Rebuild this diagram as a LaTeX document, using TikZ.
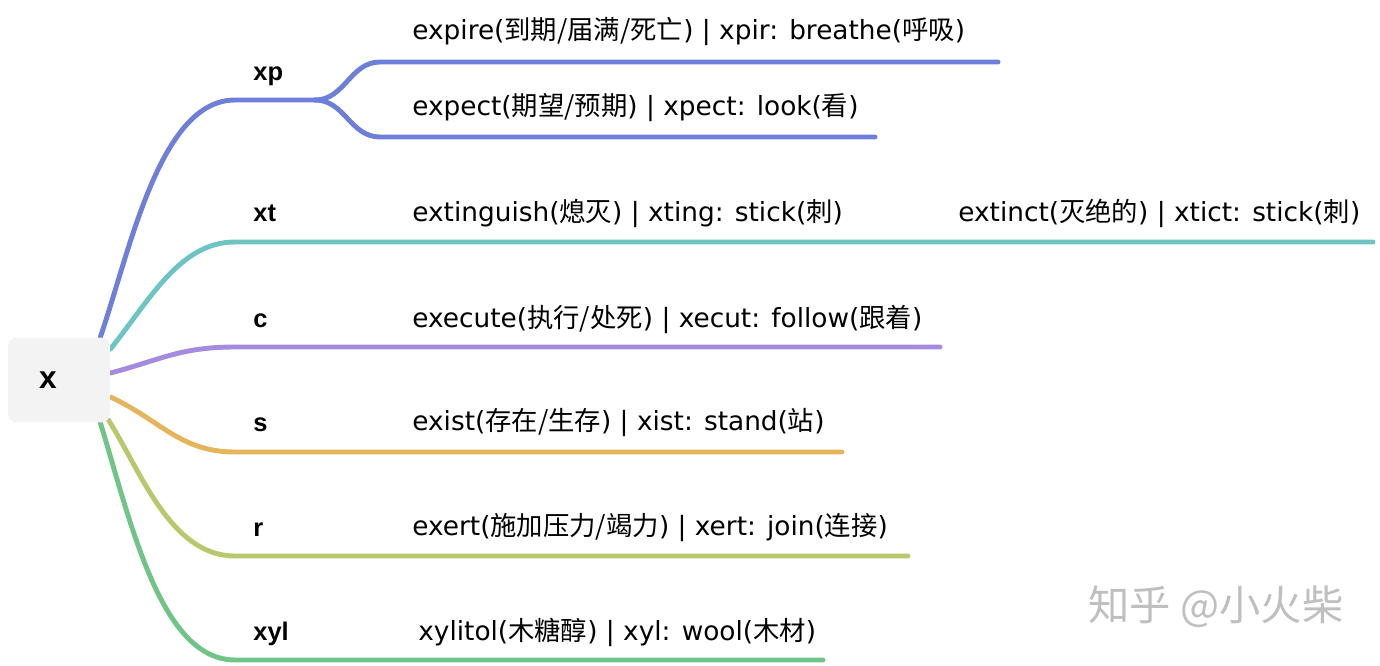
\documentclass[tikz,border=0pt]{standalone}
\usepackage{fontspec}
\setmainfont{Liberation Sans}
\newfontfamily\latin{DejaVu Sans}
\newfontfamily\cjk{Noto Sans CJK SC}
\usetikzlibrary{backgrounds}

\definecolor{rootgray}{HTML}{F3F3F3}
\definecolor{xpblue}{HTML}{6E7FD9}
\definecolor{xtteal}{HTML}{6EC4C2}
\definecolor{cpurple}{HTML}{A48BE0}
\definecolor{sorange}{HTML}{E4B55B}
\definecolor{rlime}{HTML}{B7C96C}
\definecolor{xylgreen}{HTML}{70C487}

\begin{document}
\begin{tikzpicture}[x=0.02cm,y=-0.02cm,
  branch/.style={line width=2.8pt,line cap=round},
  word/.style={anchor=west,inner sep=0pt,font=\latin\fontsize{15}{18}\selectfont},
  stem/.style={anchor=base west,inner sep=0pt,font=\fontsize{14.5}{16}\selectfont\bfseries}]

\useasboundingbox (0,0) rectangle (1380,666);

% Root box
\node[fill=rootgray, rounded corners=5pt, minimum height=1.7cm,
  inner xsep=0.62cm, text width=0.8cm, align=left,
  font=\fontsize{18}{20}\selectfont\bfseries] (root) at (59,380) {x};

% Bends and ends of the branches
\coordinate (xp-bend) at (235,100);
\coordinate (xp-fork) at (315,100);
\coordinate (xp-up) at (380,62);
\coordinate (xp-dn) at (380,137);
\coordinate (xp-up-end) at (998,62);
\coordinate (xp-dn-end) at (875,137);
\coordinate (xt-bend) at (235,242);
\coordinate (xt-end) at (1373,242);
\coordinate (c-bend) at (235,347);
\coordinate (c-end) at (940,347);
\coordinate (s-bend) at (235,452);
\coordinate (s-end) at (842,452);
\coordinate (r-bend) at (235,556);
\coordinate (r-end) at (908,556);
\coordinate (xyl-bend) at (235,660);
\coordinate (xyl-end) at (823,660);

% Branches, behind the root box
\begin{scope}[on background layer]
\draw[branch,xpblue] ([xshift=-0.2cm]root.north east)
  .. controls +(30,-88) and +(-75,0) .. (xp-bend) -- (xp-fork);
\draw[branch,xpblue] (xp-fork) .. controls +(30,0) and +(-30,0) .. (xp-up) -- (xp-up-end);
\draw[branch,xpblue] (xp-fork) .. controls +(30,0) and +(-30,0) .. (xp-dn) -- (xp-dn-end);
\draw[branch,xtteal] ([yshift=-0.24cm]root.north east)
  .. controls +(40,-50) and +(-55,0) .. (xt-bend) -- (xt-end);
\draw[branch,cpurple] ([yshift=0.14cm]root.east)
  .. controls +(50,-13) and +(-55,0) .. (c-bend) -- (c-end);
\draw[branch,sorange] ([yshift=-0.34cm]root.east)
  .. controls +(50,23) and +(-55,0) .. (s-bend) -- (s-end);
\draw[branch,rlime] ([xshift=-0.04cm,yshift=0.06cm]root.south east)
  .. controls +(32,50) and +(-65,0) .. (r-bend) -- (r-end);
\draw[branch,xylgreen] ([xshift=-0.2cm]root.south east)
  .. controls +(30,97) and +(-75,0) .. (xyl-bend) -- (xyl-end);
\end{scope}

% Stems
\node[stem] (xp) at (253,80) {xp};
\node[stem] (xt) at (253,221) {xt};
\node[stem] (c) at (253,327) {c};
\node[stem] (s) at (253,431) {s};
\node[stem] (r) at (253,536) {r};
\node[stem] (xyl) at (253,640) {xyl};

% Words
\node[word] (expire) at (412,32) {expire({\cjk 到期/届满/死亡}) | xpir: breathe({\cjk 呼吸})};
\node[word] (expect) at (412,108) {expect({\cjk 期望/预期}) | xpect: look({\cjk 看})};
\node[word] (extinguish) at (412,213) {extinguish({\cjk 熄灭}) | xting: stick({\cjk 刺})};
\node[word] (extinct) at (958,213) {extinct({\cjk 灭绝的}) | xtict: stick({\cjk 刺})};
\node[word] (execute) at (412,319) {execute({\cjk 执行/处死}) | xecut: follow({\cjk 跟着})};
\node[word] (exist) at (412,423) {exist({\cjk 存在/生存}) | xist: stand({\cjk 站})};
\node[word] (exert) at (412,528) {exert({\cjk 施加压力/竭力}) | xert: join({\cjk 连接})};
\node[word] (xylitol) at (418,632) {xylitol({\cjk 木糖醇}) | xyl: wool({\cjk 木材})};

% Watermark
\node[inner sep=0pt, text=black!25, font=\cjk\fontsize{23.5}{26}\selectfont] (mark) at (1216,607) {知乎 @小火柴};

\end{tikzpicture}
\end{document}
